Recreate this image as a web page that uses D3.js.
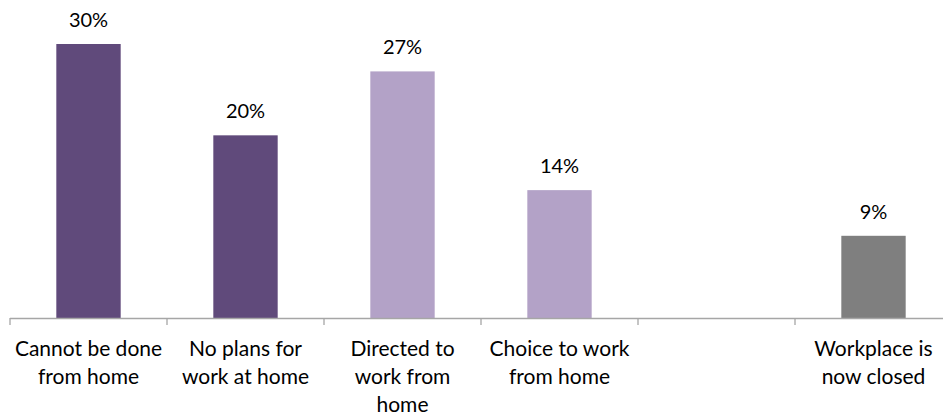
<!DOCTYPE html>
<html>
<head>
<meta charset="utf-8">
<script src="https://cdn.jsdelivr.net/npm/d3@7"></script>
<style>
  html, body { margin: 0; padding: 0; background: #fff; }
  svg { display: block; }
</style>
</head>
<body>
<svg id="chart" width="943" height="416"></svg>
<script>
// Reasons for working location (share of respondents)
const categories = [
  "Cannot be done|from home",
  "No plans for|work at home",
  "Directed to|work from|home",
  "Choice to work|from home",
  "",
  "Workplace is|now closed"
];
const values = [30, 20, 27, 14, null, 9];
const valueLabels = ["30%", "20%", "27%", "14%", "", "9%"];
const barColors = ["#604A7B", "#604A7B", "#B3A2C7", "#B3A2C7", "#B3A2C7", "#7F7F7F"];

const svg = d3.select("#chart");
const font = "Lato, 'Open Sans', sans-serif";

const x0 = 10, x1 = 952;
const baseY = 318;

const x = d3.scaleBand()
  .domain(d3.range(categories.length))
  .range([x0, x1])
  .padding(0);

const y = d3.scaleLinear()
  .domain([0, 30])
  .range([baseY, 44]);

const barW = x.bandwidth() * 0.41;

// bars
svg.append("g").selectAll("rect")
  .data(values.map((v, i) => ({ v, i })).filter(d => d.v != null))
  .join("rect")
  .attr("x", d => x(d.i) + x.bandwidth() / 2 - barW / 2)
  .attr("y", d => y(d.v))
  .attr("width", barW)
  .attr("height", d => y(0) - y(d.v))
  .attr("fill", d => barColors[d.i]);

// value labels
svg.append("g").selectAll("text")
  .data(values.map((v, i) => ({ v, i })).filter(d => d.v != null))
  .join("text")
  .attr("x", d => x(d.i) + x.bandwidth() / 2)
  .attr("y", d => y(d.v) - 17)
  .attr("text-anchor", "middle")
  .attr("font-family", font)
  .attr("font-size", 20)
  .attr("fill", "#000")
  .text(d => valueLabels[d.i]);

// category axis: line with ticks at band boundaries
const axisG = svg.append("g").attr("stroke", "#A6A6A6").attr("stroke-width", 1.3);
axisG.append("line")
  .attr("x1", x0).attr("x2", x1)
  .attr("y1", baseY + 0.5).attr("y2", baseY + 0.5);
axisG.selectAll("line.tick")
  .data(d3.range(categories.length + 1))
  .join("line")
  .attr("class", "tick")
  .attr("x1", i => x0 + i * x.step())
  .attr("x2", i => x0 + i * x.step())
  .attr("y1", baseY)
  .attr("y2", baseY + 7);

// category labels
const lab = svg.append("g").selectAll("text")
  .data(categories.map((c, i) => ({ c, i })))
  .join("text")
  .attr("x", d => x(d.i) + x.bandwidth() / 2)
  .attr("y", 356)
  .attr("text-anchor", "middle")
  .attr("font-family", font)
  .attr("font-size", 21)
  .attr("fill", "#000");
lab.selectAll("tspan")
  .data(d => d.c ? d.c.split("|").map(t => ({ t, x: x(d.i) + x.bandwidth() / 2 })) : [])
  .join("tspan")
  .attr("x", d => d.x)
  .attr("dy", (d, j) => j === 0 ? 0 : 28)
  .text(d => d.t);
</script>
</body>
</html>
